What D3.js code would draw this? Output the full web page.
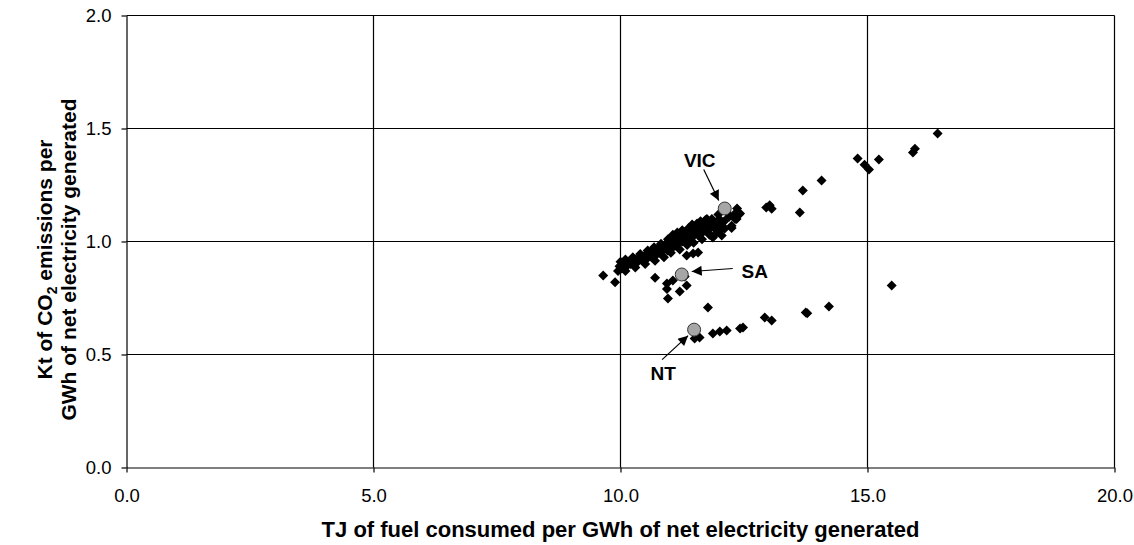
<!DOCTYPE html>
<html><head><meta charset="utf-8">
<script src="https://cdn.jsdelivr.net/npm/d3@7"></script>
<style>
html,body{margin:0;padding:0;background:#fff;}
svg{display:block;font-family:"Liberation Sans",Arial,sans-serif;}
</style></head>
<body>
<script>
// ---------- data ----------
const xTicks = [0, 5, 10, 15, 20];
const yTicks = [0, 0.5, 1.0, 1.5, 2.0];
const xTitle = "TJ of fuel consumed per GWh of net electricity generated";
const yTitle2 = "GWh of net electricity generated";

// dense main band
const bandX = [9.95,9.98,10.02,10.05,10.08,10.12,10.15,10.2,10.24,10.28,10.3,10.35,10.38,10.42,10.46,10.5,10.52,10.56,10.6,10.63,10.66,10.7,10.72,10.75,10.78,10.8,10.84,10.86,10.9,10.92,10.95,10.98,11.0,11.03,11.05,11.08,11.1,11.13,11.16,11.18,11.2,11.23,11.26,11.3,11.33,11.36,11.4,11.43,11.46,11.5,11.53,11.56,11.6,11.63,11.66,11.7,11.74,11.78,11.82,11.86,11.9,11.95,12.0,12.05,12.1,12.2,12.3,12.35,12.4,
  11.75,11.87,11.95,12.05,12.11,12.25,12.32,12.42,12.36,
  10.0,10.1,10.25,10.4,10.55,10.68,10.82,10.96,11.06,11.15,11.25,11.38,11.45,11.55,11.62,11.72,11.85,11.98,12.15,
  10.1,10.3,10.5,10.7,10.88,11.02,11.2,11.35,11.48,11.65,11.8,12.0,12.25];
const bandY = [0.87,0.89,0.88,0.90,0.88,0.89,0.91,0.90,0.91,0.90,0.92,0.91,0.93,0.92,0.93,0.94,0.92,0.94,0.95,0.93,0.95,0.96,0.94,0.97,0.95,0.97,0.96,0.98,0.97,0.99,0.96,0.98,1.0,0.97,0.99,1.01,0.98,1.0,1.02,0.99,1.01,1.03,1.0,1.02,1.04,1.01,1.03,1.05,1.02,1.04,1.06,1.03,1.05,1.07,1.04,1.06,1.08,1.05,1.07,1.09,1.06,1.08,1.1,1.07,1.09,1.11,1.12,1.10,1.12,
  1.10,1.018,1.04,1.027,1.057,1.07,1.10,1.124,1.146,
  0.91,0.92,0.93,0.945,0.96,0.975,0.99,1.01,1.03,1.04,1.05,1.06,1.075,1.08,1.09,1.095,1.1,1.12,1.13,
  0.87,0.885,0.9,0.915,0.93,0.95,0.965,0.985,0.995,1.01,1.03,1.045,1.06];

// other points
const otherX = [9.65,9.89,10.70,10.94,10.94,10.96,11.06,11.30,11.34,11.20,11.77,11.34,11.47,11.57,
  11.50,11.60,11.87,12.01,12.15,12.48,12.42,12.92,13.06,13.75,13.78,14.22,15.49,
  12.95,13.02,13.06,13.63,13.69,14.07,14.80,14.94,15.03,15.23,15.92,15.96,16.42];
const otherY = [0.85,0.82,0.84,0.814,0.79,0.748,0.827,0.845,0.805,0.779,0.708,0.938,0.947,0.951,
  0.571,0.575,0.593,0.602,0.606,0.62,0.615,0.664,0.65,0.686,0.682,0.712,0.805,
  1.15,1.16,1.145,1.128,1.226,1.27,1.367,1.34,1.319,1.363,1.394,1.41,1.478];

// highlighted states
const stateNames = ["VIC","SA","NT"];
const stateX = [12.11, 11.24, 11.49];
const stateY = [1.146, 0.854, 0.61];

// ---------- chart ----------
const W = 1134, H = 545;
const svg = d3.select("body").append("svg").attr("width", W).attr("height", H);
const x = d3.scaleLinear().domain([0, 20]).range([126.5, 1114.5]);
const y = d3.scaleLinear().domain([0, 2]).range([467.5, 15.5]);

// gridlines
svg.append("g").selectAll("line").data(xTicks.slice(1)).join("line")
  .attr("x1", d => x(d)).attr("x2", d => x(d)).attr("y1", y(0)).attr("y2", y(2))
  .attr("stroke", "#000").attr("stroke-width", 1.2);
svg.append("g").selectAll("line").data(yTicks.slice(1)).join("line")
  .attr("x1", x(0)).attr("x2", x(20)).attr("y1", d => y(d)).attr("y2", d => y(d))
  .attr("stroke", "#000").attr("stroke-width", 1.2);

// axes
const xAxis = d3.axisBottom(x).tickValues(xTicks).tickFormat(d3.format(".1f")).tickSizeInner(5).tickSizeOuter(0).tickPadding(16);
const yAxis = d3.axisLeft(y).tickValues(yTicks).tickFormat(d3.format(".1f")).tickSizeInner(5).tickSizeOuter(0).tickPadding(10);
const gx = svg.append("g").attr("transform", `translate(0,${y(0)})`).call(xAxis);
const gy = svg.append("g").attr("transform", `translate(${x(0)},0)`).call(yAxis);
[gx, gy].forEach(g => {
  g.selectAll("path,line").attr("stroke", "#000").attr("stroke-width", 1.2);
  g.selectAll("text").attr("font-size", 18.5).attr("fill", "#000").attr("font-family", "Liberation Sans, Arial, sans-serif");
});

// titles
svg.append("text").attr("x", (x(0)+x(20))/2).attr("y", 537).attr("text-anchor", "middle")
  .attr("font-size", 22).attr("font-weight", "bold").text(xTitle);
const yt = svg.append("g").attr("transform", `translate(0,${(y(0)+y(2))/2 + 18}) rotate(-90)`);
const t1 = yt.append("text").attr("x", 0).attr("y", 52).attr("text-anchor", "middle")
  .attr("font-size", 21).attr("font-weight", "bold");
t1.append("tspan").text("Kt of CO");
t1.append("tspan").attr("font-size", 14).attr("dy", 5).text("2");
t1.append("tspan").attr("dy", -5).text(" emissions per");
yt.append("text").attr("x", 0).attr("y", 76).attr("text-anchor", "middle")
  .attr("font-size", 21).attr("font-weight", "bold").text(yTitle2);

// points
const diamond = d3.symbol().type(d3.symbolSquare).size(50);
const pts = bandX.map((v, i) => [v, bandY[i]]).concat(otherX.map((v, i) => [v, otherY[i]]));
svg.append("g").selectAll("path").data(pts).join("path")
  .attr("d", diamond)
  .attr("transform", d => `translate(${x(d[0])},${y(d[1])}) rotate(45)`)
  .attr("fill", "#000");

// arrows
const defs = svg.append("defs");
defs.append("marker").attr("id", "ah").attr("viewBox", "0 0 10 10").attr("refX", 10).attr("refY", 5)
  .attr("markerWidth", 14).attr("markerHeight", 10).attr("markerUnits", "userSpaceOnUse").attr("orient", "auto")
  .append("path").attr("d", "M0,0 L10,5 L0,10 z").attr("fill", "#000");

const states = stateNames.map((n, i) => ({n, x: stateX[i], y: stateY[i]}));
// label offsets (pixels) for text and arrow ends
const labelPos = {VIC: {tx: -25, ty: -48, ax: -21, ay: -39, ex: -6, ey: -8},
                  SA:  {tx: 73, ty: -3, ax: 51, ay: -6, ex: 10, ey: -3},
                  NT:  {tx: -31, ty: 44, ax: -32, ay: 30, ex: -6, ey: 6}};
svg.append("g").selectAll("line").data(states).join("line")
  .attr("x1", d => x(d.x) + labelPos[d.n].ax)
  .attr("y1", d => y(d.y) + labelPos[d.n].ay)
  .attr("x2", d => x(d.x) + labelPos[d.n].ex)
  .attr("y2", d => y(d.y) + labelPos[d.n].ey)
  .attr("stroke", "#000").attr("stroke-width", 1.2).attr("marker-end", "url(#ah)");

svg.append("g").selectAll("circle").data(states).join("circle")
  .attr("cx", d => x(d.x)).attr("cy", d => y(d.y)).attr("r", 6.5)
  .attr("fill", "#a6a6a6").attr("stroke", "#333").attr("stroke-width", 1);

svg.append("g").selectAll("text").data(states).join("text")
  .attr("x", d => x(d.x) + labelPos[d.n].tx)
  .attr("y", d => y(d.y) + labelPos[d.n].ty)
  .attr("text-anchor", "middle").attr("dominant-baseline", "central")
  .attr("font-size", 19).attr("font-weight", "bold").text(d => d.n);
</script>
</body></html>
